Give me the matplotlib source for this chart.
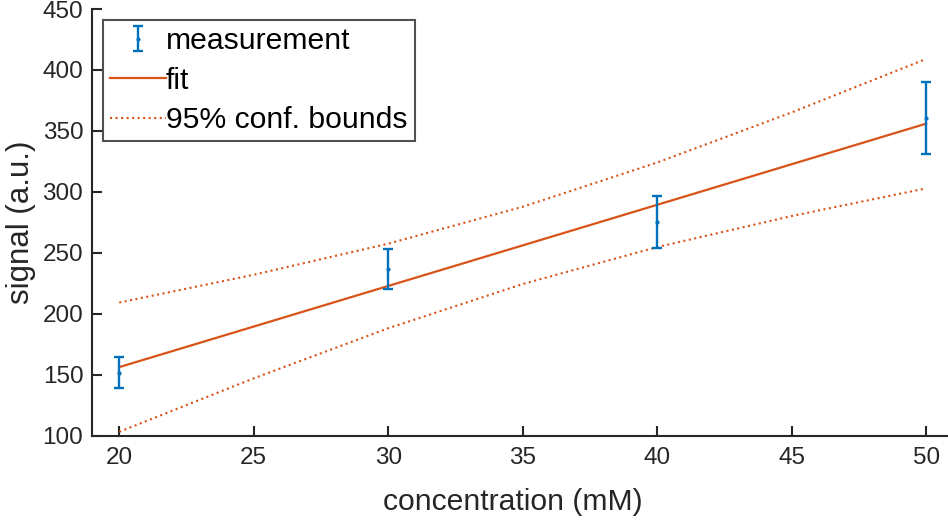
import matplotlib
matplotlib.use("Agg")
import matplotlib.pyplot as plt
from matplotlib.legend_handler import HandlerErrorbar
from matplotlib.container import ErrorbarContainer

# data
conc = [20, 30, 40, 50]
signal = [151.6, 236.5, 275.2, 360.7]
err = [13.0, 16.6, 21.5, 29.6]

x_fit = [20, 25, 30, 35, 40, 45, 50]
fit = [156.1, 189.4, 222.7, 256.0, 289.3, 322.6, 355.9]
upper = [209.1, 231.9, 257.4, 287.7, 324.0, 365.1, 409.0]
lower = [103.0, 146.9, 188.0, 224.3, 254.6, 280.1, 302.8]

xticks = [20, 25, 30, 35, 40, 45, 50]
yticks = [100, 150, 200, 250, 300, 350, 400, 450]

plt.rcParams['font.family'] = ['Liberation Sans', 'DejaVu Sans']
dark = '#262626'
blue = '#0072BD'
orange = '#D95319'

W, H = 948, 522
fig = plt.figure(figsize=(W / 100, H / 100), dpi=100)
left_px, right_px = 92.3, 953.0
top_px, bot_px = 9.0, 435.5
aw, ah = right_px - left_px, bot_px - top_px
ax = fig.add_axes([left_px / W, 1 - bot_px / H, aw / W, ah / H])

eb = ax.errorbar(conc, signal, yerr=err, fmt='.', color=blue, ecolor=blue,
                 elinewidth=1.7, capsize=3.5, capthick=1.7, markersize=4,
                 zorder=3)
fl, = ax.plot(x_fit, fit, '-', color=orange, lw=1.6, zorder=2)
ul, = ax.plot(x_fit, upper, ':', color=orange, lw=1.5, zorder=2)
ax.plot(x_fit, lower, ':', color=orange, lw=1.5, zorder=2)

ax.set_xlim(19, 51)
ax.set_ylim(100, 450)
ax.set_xticks(xticks)
ax.set_yticks(yticks)
for s in ['top', 'right']:
    ax.spines[s].set_visible(False)
for s in ['left', 'bottom']:
    ax.spines[s].set_color(dark)
    ax.spines[s].set_linewidth(1.5)
ax.tick_params(direction='in', length=7, width=1.5, color=dark, labelcolor=dark,
               labelsize=17.5)
ax.tick_params(axis='x', pad=8.5)
ax.tick_params(axis='y', pad=6.5)

ax.set_xlabel('concentration (mM)', fontsize=21.7, color=dark)
ax.set_ylabel('signal (a.u.)', fontsize=22.5, color=dark)
ax.xaxis.label.set_verticalalignment('center')
ax.yaxis.label.set_verticalalignment('center')
ax.xaxis.set_label_coords((513 - left_px) / aw, -(502 - bot_px) / ah)
ax.yaxis.set_label_coords(-(left_px - 21) / aw, 0.5)

leg = ax.legend([eb, fl, ul], ['measurement', 'fit', '95% conf. bounds'],
                loc='upper left',
                bbox_to_anchor=((103 - left_px) / aw, 1 - (20 - top_px) / ah),
                borderaxespad=0, fontsize=21.7, frameon=True, fancybox=False,
                handlelength=1.85, handletextpad=0.0, labelspacing=0.38,
                borderpad=0.24, labelcolor='black',
                handler_map={ErrorbarContainer: HandlerErrorbar(xerr_size=0.25, yerr_size=0.41)})
leg.get_frame().set_edgecolor(dark)
leg.get_frame().set_linewidth(1.5)

fig.savefig('out.png', dpi=100)
